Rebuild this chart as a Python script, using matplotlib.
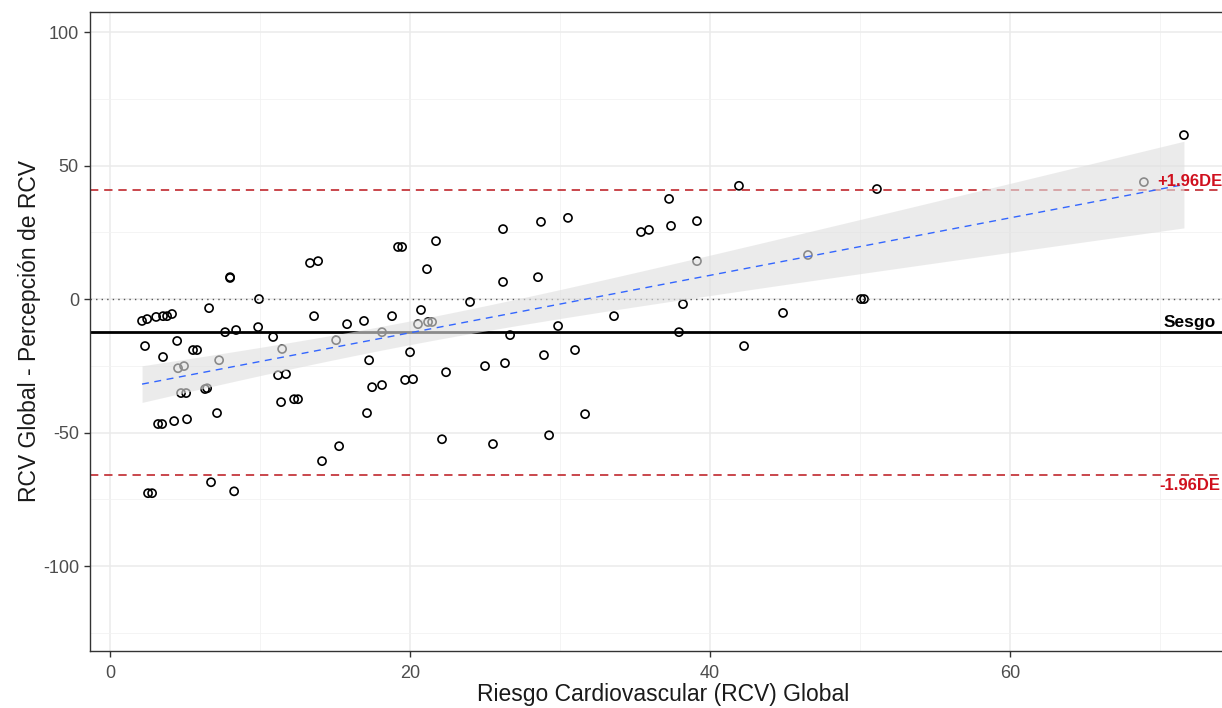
import numpy as np
import matplotlib
matplotlib.use("Agg")
import matplotlib.pyplot as plt
from matplotlib.ticker import MultipleLocator

plt.rcParams['font.family'] = ['Liberation Sans', 'DejaVu Sans']
plt.rcParams['axes.unicode_minus'] = False

# ---- data ----
rcv_global = [2.13, 2.47, 2.33, 2.53, 2.8, 3.07, 3.53, 3.8, 4.13, 3.53,
              3.2, 3.47, 4.27, 4.47, 4.53, 4.93, 4.73, 5.07, 5.13, 5.53,
              5.8, 6.6, 6.33, 6.47, 6.73, 7.27, 7.13, 7.67, 8.0, 8.0,
              8.4, 8.27, 9.93, 9.87, 10.87, 11.2, 11.47, 11.4, 11.73, 12.27,
              12.53, 13.33, 13.87, 13.6, 14.13, 15.07, 15.27, 15.8, 16.93, 17.27,
              17.13, 17.47, 18.13, 18.13, 18.8, 19.2, 19.47, 19.67, 20.2, 20.0,
              20.53, 20.73, 21.13, 21.2, 21.47, 21.73, 22.13, 22.4, 24.0, 25.0,
              25.53, 26.2, 26.2, 26.33, 26.67, 28.53, 28.73, 28.93, 29.27, 29.87,
              30.53, 31.0, 31.67, 33.6, 35.4, 35.93, 37.27, 37.4, 37.93, 38.2,
              39.13, 39.13, 41.93, 42.27, 44.87, 46.53, 50.07, 50.27, 51.13, 68.93,
              71.6]
diferencia = [-8.2, -7.5, -17.6, -72.7, -72.7, -6.7, -6.4, -6.4, -5.6, -21.7,
              -46.8, -46.8, -45.7, -15.7, -25.9, -25.1, -35.2, -35.2, -45.0, -19.1,
              -19.1, -3.4, -33.7, -33.4, -68.6, -22.9, -42.7, -12.4, 8.2, 7.9,
              -11.6, -72.0, 0.0, -10.5, -14.2, -28.5, -18.7, -38.6, -28.1, -37.5,
              -37.5, 13.5, 14.2, -6.4, -60.7, -15.4, -55.1, -9.4, -8.2, -22.9,
              -42.7, -33.0, -32.2, -12.4, -6.4, 19.5, 19.5, -30.3, -30.0, -19.9,
              -9.4, -4.1, 11.2, -8.6, -8.6, 21.7, -52.5, -27.4, -1.1, -25.1,
              -54.3, 26.2, 6.4, -24.0, -13.5, 8.2, 28.9, -21.0, -51.0, -10.1,
              30.4, -19.1, -43.1, -6.4, 25.1, 25.9, 37.5, 27.4, -12.4, -1.9,
              29.2, 14.2, 42.4, -17.6, -5.2, 16.5, 0.0, 0.0, 41.2, 43.8,
              61.4]
sesgo = -12.4
lim_sup = 40.8
lim_inf = -65.9
labels_lines = ["+1.96DE", "Sesgo", "-1.96DE"]
x_label = "Riesgo Cardiovascular (RCV) Global"
y_label = "RCV Global - Percepción de RCV"

x = np.array(rcv_global)
y = np.array(diferencia)

# ---- linear fit with 95% CI ----
n = len(x)
b1, b0 = np.polyfit(x, y, 1)
resid = y - (b0 + b1 * x)
s = np.sqrt(np.sum(resid ** 2) / (n - 2))
xbar = x.mean()
sxx = np.sum((x - xbar) ** 2)
xg = np.linspace(x.min(), x.max(), 200)
yg = b0 + b1 * xg
tq = 1.984
se = s * np.sqrt(1.0 / n + (xg - xbar) ** 2 / sxx)

# ---- figure ----
W, H = 1222, 708
fig = plt.figure(figsize=(W / 100, H / 100), dpi=100)
left, right, top, bottom = 90, 1236, 12, 651
ax = fig.add_axes([left / W, 1 - bottom / H, (right - left) / W, (bottom - top) / H])

ax.set_xlim(-1.34, 75.07)
ax.set_ylim(-131.8, 107.5)

ax.xaxis.set_major_locator(MultipleLocator(20))
ax.xaxis.set_minor_locator(MultipleLocator(10))
ax.yaxis.set_major_locator(MultipleLocator(50))
ax.yaxis.set_minor_locator(MultipleLocator(25))
ax.grid(which='major', color='#EBEBEB', linewidth=1.1, zorder=0)
ax.grid(which='minor', color='#F2F2F2', linewidth=0.6, zorder=0)
ax.set_axisbelow(True)

for sp in ax.spines.values():
    sp.set_color('#333333')
    sp.set_linewidth(1.0)

ax.tick_params(which='major', direction='out', length=4, width=1, color='#333333',
               labelcolor='#4D4D4D', labelsize=13, pad=4)
ax.tick_params(axis='x', which='major', pad=6)
ax.tick_params(which='minor', length=0)

# points
ax.scatter(x, y, s=34, facecolors='none', edgecolors='black', linewidths=1.2, zorder=2)

# reference lines
ax.axhline(0, color='#555555', linestyle=(0, (1, 3)), linewidth=1.0, zorder=2)
ax.axhline(sesgo, color='black', linewidth=2.0, zorder=2)
ax.axhline(lim_sup, color='#C0282D', linestyle=(0, (5, 3.5)), linewidth=1.2, zorder=2)
ax.axhline(lim_inf, color='#C0282D', linestyle=(0, (5, 3.5)), linewidth=1.2, zorder=2)

# smooth band + line
ax.fill_between(xg, yg - tq * se, yg + tq * se, color='#E0E0E0', alpha=0.62,
                linewidth=0, zorder=3)
ax.plot(xg, yg, color='#3366FF', linestyle=(0, (5, 4)), linewidth=1.0, zorder=4)

# annotations
xt = 72.0
ax.text(xt, lim_sup + 3.4, labels_lines[0], color='#D0101E', fontsize=12,
        fontweight='bold', ha='center', va='center', zorder=5)
ax.text(xt, sesgo + 3.8, labels_lines[1], color='black', fontsize=12.5,
        fontweight='bold', ha='center', va='center', zorder=5)
ax.text(xt, lim_inf - 3.8, labels_lines[2], color='#D0101E', fontsize=12,
        fontweight='bold', ha='center', va='center', zorder=5)

ax.set_xlabel(x_label, fontsize=16.5, color='#1A1A1A', labelpad=1)
ax.set_ylabel(y_label, fontsize=16.5, color='#1A1A1A', labelpad=1)

fig.savefig('out.png', dpi=100)
